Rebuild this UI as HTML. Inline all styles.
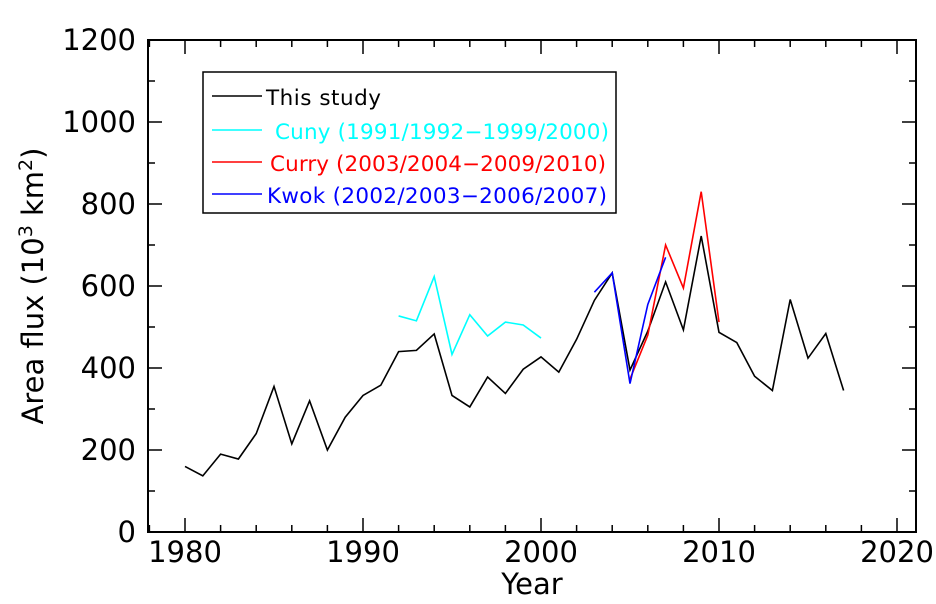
<!DOCTYPE html>
<html><head><meta charset="utf-8"><style>
body{margin:0;background:#fff;}
svg text{font-family:"DejaVu Sans","Liberation Sans",sans-serif;}
</style></head><body>
<svg id="chart" width="936" height="599"></svg>
<script>
const years=[];for(let y=1980;y<=2017;y++)years.push(y);
const thisStudy=[160,137,190,178,240,355,215,320,200,280,333,358,440,443,483,333,305,378,338,397,427,390,470,565,632,395,490,610,493,722,487,462,380,345,567,424,484,345];
const cunyYears=[1992,1993,1994,1995,1996,1997,1998,1999,2000];
const cuny=[527,515,623,433,530,478,512,505,473];
const curryYears=[2005,2006,2007,2008,2009,2010];
const curry=[373,480,700,595,830,512];
const kwokYears=[2003,2004,2005,2006,2007];
const kwok=[585,632,362,555,670];
const xTicks=[1980,1990,2000,2010,2020];
const yTicks=[0,200,400,600,800,1000,1200];
const NS="http://www.w3.org/2000/svg";
const svg=document.getElementById('chart');
const L=148,R=916,T=40,B=532;
const X=v=>185+(v-1980)*17.8;
const Y=v=>B-(v/1200)*(B-T);
function el(t,a,p){const e=document.createElementNS(NS,t);for(const k in a)e.setAttribute(k,a[k]);(p||svg).appendChild(e);return e;}
const frame=el('rect',{x:L,y:T,width:R-L,height:B-T,fill:'none',stroke:'#000','stroke-width':2});


for(let v=0;v<=1200;v+=100){const maj=v%200===0,len=maj?14:7;
 el('line',{x1:L,x2:L+len,y1:Y(v),y2:Y(v),stroke:'#000','stroke-width':1.5});
 el('line',{x1:R,x2:R-len,y1:Y(v),y2:Y(v),stroke:'#000','stroke-width':1.5});}
for(let v=1978;v<=2020;v+=2){const maj=v%10===0,len=maj?14:7;
 el('line',{x1:X(v),x2:X(v),y1:B,y2:B-len,stroke:'#000','stroke-width':1.5});
 el('line',{x1:X(v),x2:X(v),y1:T,y2:T+len,stroke:'#000','stroke-width':1.5});}
yTicks.forEach(v=>{const t=el('text',{x:L-12,y:Y(v)+10,'text-anchor':'end','font-size':29});t.textContent=v;
 
 });
xTicks.forEach(v=>{const t=el('text',{x:X(v),y:B+30,'text-anchor':'middle','font-size':29});t.textContent=v;
 
 });
const xt=el('text',{x:532,y:594,'text-anchor':'middle','font-size':29});xt.textContent='Year';


const yt=el('text',{x:0,y:0,'text-anchor':'middle','font-size':29,transform:'translate(43,286) rotate(-90)'});
yt.innerHTML='Area flux (10<tspan font-size="19" dy="-11">3</tspan><tspan dy="11"> km</tspan><tspan font-size="19" dy="-11">2</tspan><tspan dy="11">)</tspan>';


function line(xs,ys,c,name){const p=el('polyline',{points:xs.map((x,i)=>X(x)+','+Y(ys[i])).join(' '),fill:'none',stroke:c,'stroke-width':1.6});
 
 }
line(years,thisStudy,'#000','this-study-line');
line(cunyYears,cuny,'#00ffff','cuny-line');
line(curryYears,curry,'#ff0000','curry-line');
line(kwokYears,kwok,'#0000ff','kwok-line');
const lg=el('g',{});


el('rect',{x:203,y:72,width:413,height:141,fill:'#fff',stroke:'#000','stroke-width':1.5},lg);
[['This study','#000',105,''],['Cuny','#00ffff',139,'(1991/1992−1999/2000)'],['Curry','#ff0000',171,'(2003/2004−2009/2010)'],['Kwok','#0000ff',203,'(2002/2003−2006/2007)']].forEach(([n,c,y,s],i)=>{
 el('line',{x1:212,x2:262,y1:y-9,y2:y-9,stroke:c,'stroke-width':1.5},lg);
 const t=el('text',{x:i==0?266:(i==1?275:i==2?270:267),y:y,'font-size':21.5,fill:c,textLength:i==0?115:(i==1?334:i==2?336:340)},lg);
 t.textContent=n+(s?' '+s:'');
 
 
});
</script>
</body></html>
